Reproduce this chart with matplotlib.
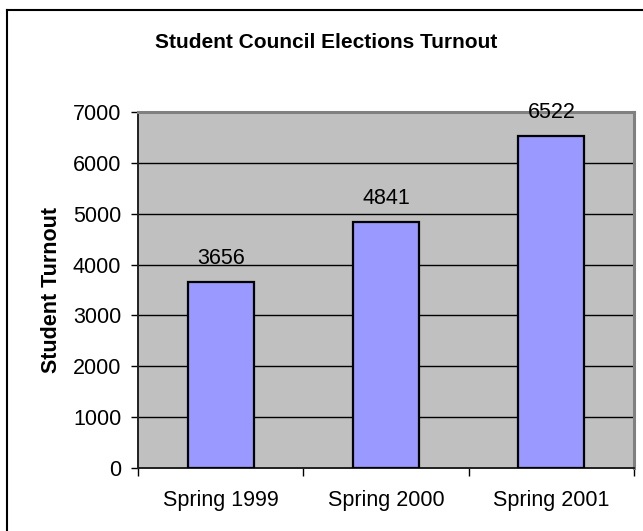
import matplotlib
matplotlib.use("Agg")
import matplotlib.pyplot as plt
from matplotlib.lines import Line2D

categories = ["Spring 1999", "Spring 2000", "Spring 2001"]
turnout = [3656, 4841, 6522]
yticks = [0, 1000, 2000, 3000, 4000, 5000, 6000, 7000]

plt.rcParams['font.family'] = ['Liberation Sans', 'DejaVu Sans']

W, H = 643, 531
fig = plt.figure(figsize=(W / 100, H / 100), dpi=100)
ax = fig.add_axes([138 / W, 1 - 468 / H, (634 - 138) / W, (468 - 112) / H])
ax.set_facecolor('#C0C0C0')

x = list(range(len(categories)))
ax.bar(x, turnout, width=0.4, color='#9999FF', edgecolor='black', linewidth=1.6, zorder=3)
for xi, v in zip(x, turnout):
    ax.annotate(str(v), (xi, v), xytext=(0, 17), textcoords='offset points',
                ha='center', va='center', fontsize=15.5, zorder=4)

ax.set_xlim(-0.5, len(categories) - 0.5)
ax.set_ylim(0, 7000)
ax.set_yticks(yticks)
ax.set_yticklabels([str(t) for t in yticks], fontsize=15.5)
ax.yaxis.grid(True, color='black', linewidth=1.0, zorder=1)
ax.set_axisbelow(True)
ax.tick_params(axis='y', direction='out', length=5, width=1, pad=7)

ax.set_xticks(x)
ax.set_xticklabels(categories, fontsize=15.5)
ax.set_xticks([i - 0.5 for i in range(len(categories) + 1)], minor=True)
ax.tick_params(axis='x', which='major', length=0, pad=16)
ax.tick_params(axis='x', which='minor', direction='out', length=6, width=1)

for s in ['left', 'bottom']:
    ax.spines[s].set_color('#202020')
    ax.spines[s].set_linewidth(1.4)
for s in ['top', 'right']:
    ax.spines[s].set_color('#808080')
    ax.spines[s].set_linewidth(2.2)

ax.set_ylabel("Student Turnout", fontsize=15.5, fontweight='bold', labelpad=8)

fig.text(326 / W, 1 - 42 / H, "Student Council Elections Turnout", ha='center', va='center',
         fontsize=15, fontweight='bold')

# outer chart frame (only left and top are visible)
fig.add_artist(Line2D([6.5 / W, 6.5 / W], [0, 1 - 10 / H], transform=fig.transFigure, color='black', linewidth=1.5))
fig.add_artist(Line2D([6.5 / W, 1], [1 - 10 / H, 1 - 10 / H], transform=fig.transFigure, color='black', linewidth=1.5))

fig.savefig("out.png", dpi=100, facecolor='white')
